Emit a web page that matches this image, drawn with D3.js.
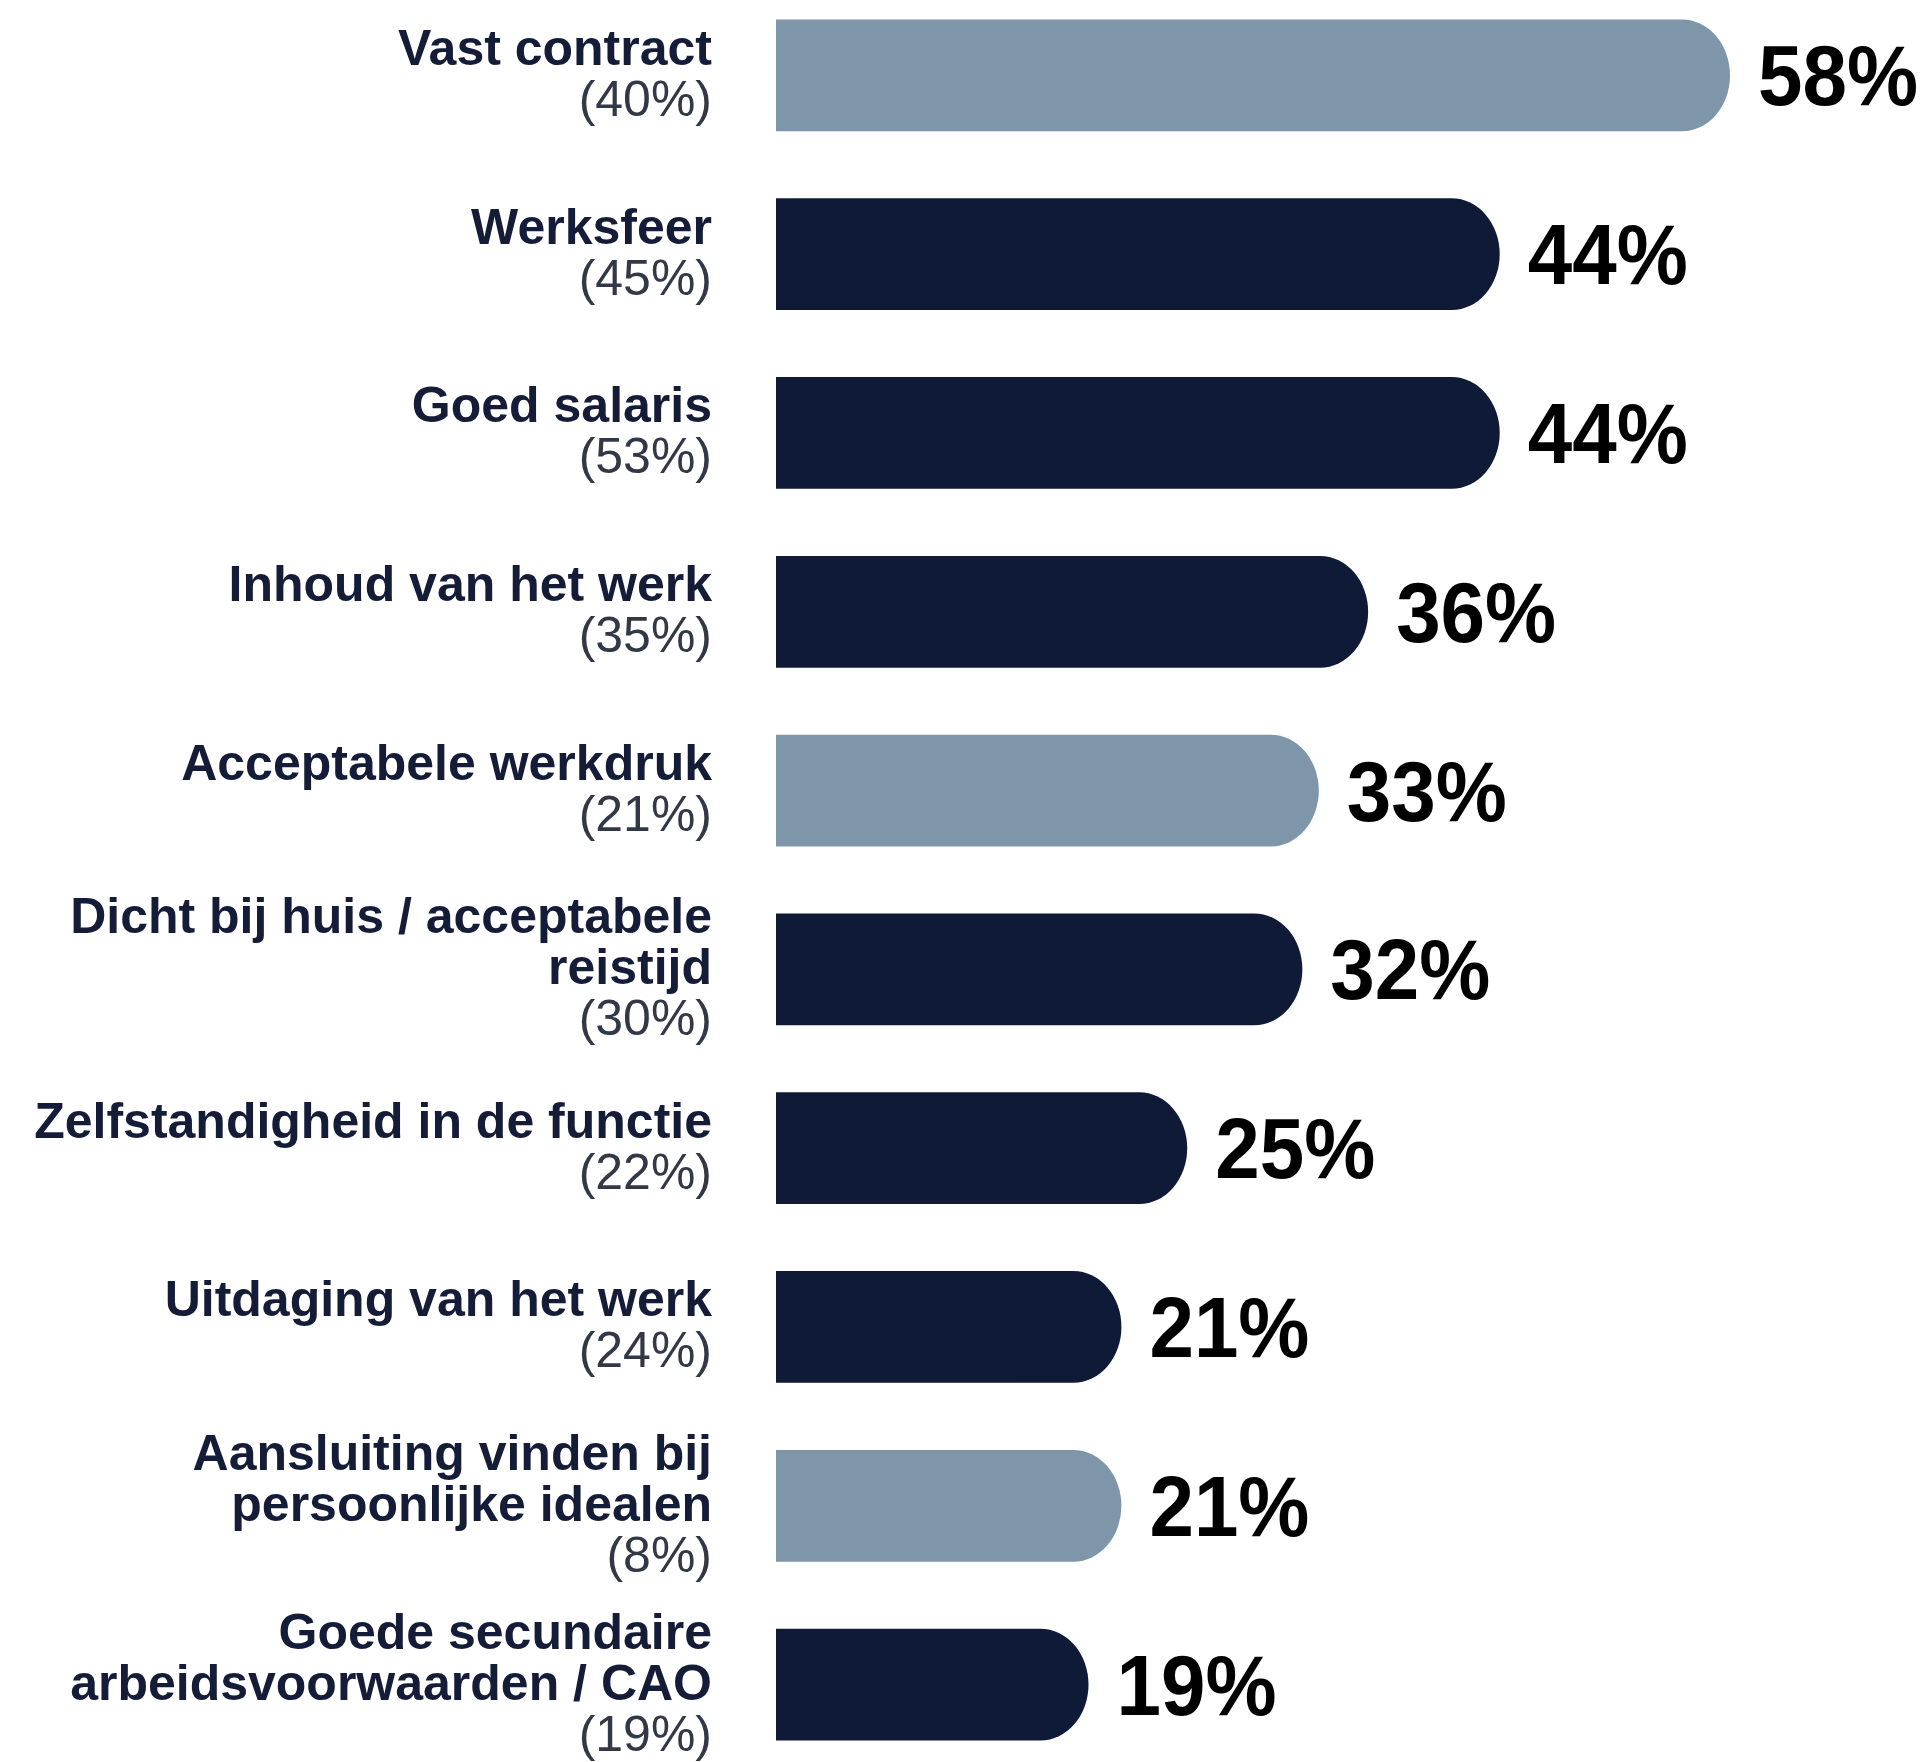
<!DOCTYPE html>
<html>
<head>
<meta charset="utf-8">
<script src="https://cdn.jsdelivr.net/npm/d3@7"></script>
<style>
html,body{margin:0;padding:0;background:#ffffff;}
svg{display:block;}
</style>
</head>
<body>
<svg id="chart" width="1931" height="1762"></svg>
<script>
const categories = [
  "Vast contract",
  "Werksfeer",
  "Goed salaris",
  "Inhoud van het werk",
  "Acceptabele werkdruk",
  "Dicht bij huis / acceptabele reistijd",
  "Zelfstandigheid in de functie",
  "Uitdaging van het werk",
  "Aansluiting vinden bij persoonlijke idealen",
  "Goede secundaire arbeidsvoorwaarden / CAO"
];
const labelLines = [
  ["Vast contract"],
  ["Werksfeer"],
  ["Goed salaris"],
  ["Inhoud van het werk"],
  ["Acceptabele werkdruk"],
  ["Dicht bij huis / acceptabele", "reistijd"],
  ["Zelfstandigheid in de functie"],
  ["Uitdaging van het werk"],
  ["Aansluiting vinden bij", "persoonlijke idealen"],
  ["Goede secundaire", "arbeidsvoorwaarden / CAO"]
];
const values = [58, 44, 44, 36, 33, 32, 25, 21, 21, 19];
const previousValues = [40, 45, 53, 35, 21, 30, 22, 24, 8, 19];
const groups = ["light", "dark", "dark", "dark", "light", "dark", "dark", "dark", "light", "dark"];

const svg = d3.select("#chart");

const x = d3.scaleLinear().domain([0, 58]).range([776, 1730]);
const step = 178.8;
const y = d3.scaleBand()
  .domain(categories)
  .range([19.5, 19.5 + (categories.length - 0.375) * step])
  .paddingInner(0.375)
  .paddingOuter(0);

const color = d3.scaleOrdinal().domain(["light", "dark"]).range(["#7f95a9", "#0f1a37"]);

const data = categories.map((c, i) => ({
  cat: c, lines: labelLines[i], v: values[i], prev: previousValues[i], g: groups[i]
}));

function barPath(d) {
  const x0 = x(0), x1 = x(d.v), y0 = y(d.cat), h = y.bandwidth();
  const rx = 48, ry = h / 2;
  return `M${x0},${y0} H${x1 - rx} A${rx},${ry} 0 0 1 ${x1 - rx},${y0 + h} H${x0} Z`;
}

svg.append("g").selectAll("path")
  .data(data)
  .join("path")
  .attr("d", barPath)
  .attr("fill", d => color(d.g));

// value labels
svg.append("g").selectAll("text")
  .data(data)
  .join("text")
  .attr("transform", d => `translate(${x(d.v) + 28},${y(d.cat) + y.bandwidth() / 2 + 30}) scale(0.93,1)`)
  .attr("font-family", "Liberation Sans, Arial, sans-serif")
  .attr("font-weight", "bold")
  .attr("font-size", 86)
  .attr("fill", "#000000")
  .text(d => d.v + "%");

// category labels
const lineH = 51;
const lg = svg.append("g").selectAll("g")
  .data(data)
  .join("g");

lg.each(function(d) {
  const g = d3.select(this);
  const all = d.lines.map(t => ({t, sub: false})).concat([{t: "(" + d.prev + "%)", sub: true}]);
  const n = all.length;
  const cy = y(d.cat) + y.bandwidth() / 2;
  const firstBase = cy - (n - 1) * lineH / 2 + 15;
  g.selectAll("text")
    .data(all)
    .join("text")
    .attr("x", 712)
    .attr("y", (l, i) => firstBase + i * lineH)
    .attr("text-anchor", "end")
    .attr("font-family", "Liberation Sans, Arial, sans-serif")
    .attr("font-size", 50)
    .attr("font-weight", l => l.sub ? "normal" : "bold")
    .attr("fill", l => l.sub ? "#333846" : "#141c38")
    .text(l => l.t);
});
</script>
</body>
</html>
